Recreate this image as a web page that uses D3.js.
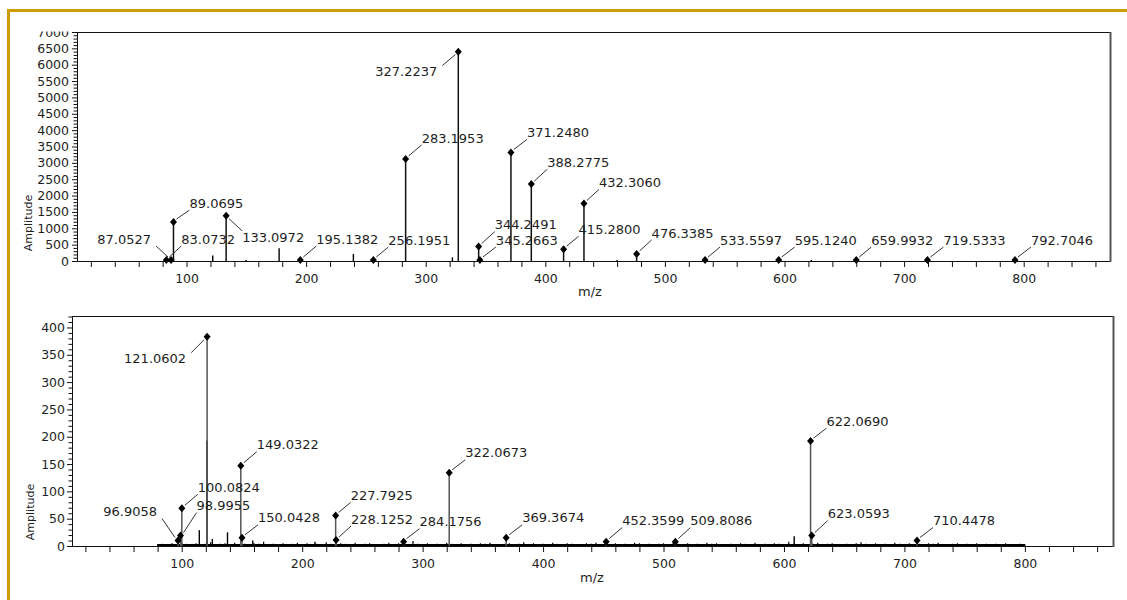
<!DOCTYPE html>
<html>
<head>
<meta charset="utf-8">
<script src="https://cdn.jsdelivr.net/npm/d3@7"></script>
<style>
  body { margin: 0; background: #fff; }
  svg { display: block; }
  text { font-family: "DejaVu Sans", Verdana, sans-serif; fill: #1e1e1e; }
</style>
</head>
<body>
<div id="chart"></div>
<script>
// ---- data ----
// upper spectrum: labelled peaks
var topPeakMz = [83.0732, 87.0527, 89.0695, 133.0972, 195.1382, 256.1951, 283.1953, 327.2237,
  344.2491, 345.2663, 371.2480, 388.2775, 415.2800, 432.3060, 476.3385, 533.5597,
  595.1240, 659.9932, 719.5333, 792.7046];
var topPeakAmp = [30, 30, 1190, 1380, 30, 30, 3120, 6400,
  440, 30, 3320, 2350, 360, 1760, 215, 30,
  30, 30, 30, 30];
// upper spectrum: small unlabelled peaks
var topMinorMz = [121.9, 149.8, 177.4, 239.5, 322.3, 460.0, 622.4];
var topMinorAmp = [170, 30, 390, 215, 110, 30, 30];

// lower spectrum: labelled peaks
var botPeakMz = [96.9058, 98.9955, 100.0824, 121.0602, 149.0322, 150.0428, 227.7925, 228.1252,
  284.1756, 322.0673, 369.3674, 452.3599, 509.8086, 622.0690, 623.0593, 710.4478];
var botPeakAmp = [10, 19, 69, 383, 147, 15, 56, 11,
  8, 134, 15, 8, 8, 192, 19, 10];
// lower spectrum: unlabelled peaks
var botMinorMz = [114.6, 121.0, 125.4, 138.0, 159.0, 210.6, 608.5];
var botMinorAmp = [29, 193, 13, 25, 10, 8, 18];
// lower spectrum: baseline noise, one value every 4 m/z from 80 to 800
var botNoiseStart = 80, botNoiseStep = 4;
var botNoise = [
  3,4,2,5,3,6,4,3,5,2,4,7,3,4,5,3,6,2,4,3,
  5,4,8,3,4,2,5,3,4,6,3,5,2,4,3,7,4,3,5,4,
  2,6,3,4,5,3,2,4,6,3,5,4,3,9,4,3,5,2,4,3,
  6,4,3,5,2,4,3,5,4,6,3,2,4,5,3,4,7,3,5,2,
  4,3,6,4,3,5,4,2,3,5,4,6,3,4,2,5,3,4,3,6,
  5,3,4,2,4,5,3,7,4,3,5,2,4,3,6,4,5,3,2,4,
  3,5,4,3,6,2,4,3,5,4,3,8,4,3,5,2,4,6,3,4,
  5,3,2,4,3,5,7,4,3,5,2,4,3,6,4,3,5,2,4,3,
  5,4,6,3,2,4,5,3,4,3,5,2,4,3,4,3,5,2,3,4,
  3];

// label placement (pixel offsets from each marker) - layout, not data
var topLabelPos = [[15,-21],[-20,-21],[16,-19],[16,21],[16,-21],[15,-20],[16,-21],[-21,20],
  [16,-22],[16,-20],[16,-20],[16,-22],[15,-20],[15,-21],[15,-21],[15,-20],
  [16,-20],[15,-20],[16,-20],[16,-20]];
var botLabelPos = [[-21,-29],[16,-30],[16,-21],[-21,22],[16,-21],[16,-20],[15,-20],[15,-21],
  [16,-20],[16,-20],[16,-20],[16,-21],[15,-21],[16,-20],[16,-22],[16,-20]];

var svgWidth = 1127, svgHeight = 600;

var svg = d3.select("#chart").append("svg")
  .attr("width", svgWidth)
  .attr("height", svgHeight);

// gold slide frame (top and left)
svg.append("rect").attr("x", 7).attr("y", 9).attr("width", svgWidth - 7).attr("height", 3).attr("fill", "#cf9c08");
svg.append("rect").attr("x", 7).attr("y", 9).attr("width", 3).attr("height", svgHeight - 9).attr("fill", "#cf9c08");

// clip for the top y labels (the "7000" is cut off in the original)
svg.append("defs").append("clipPath").attr("id", "topclip")
  .append("rect").attr("x", -100).attr("y", 31.5).attr("width", 200).attr("height", 300);

var diamond = "M0,-4L3.5,0L0,4L-3.5,0Z";

function drawSpectrum(cfg) {
  var x = d3.scaleLinear().domain(cfg.xDomain).range([cfg.left, cfg.right]);
  var y = d3.scaleLinear().domain([0, cfg.yMax]).range([cfg.bottom, cfg.top]);
  var g = svg.append("g");

  // x axis: ticks every 20, labels on hundreds
  var xAxis = d3.axisBottom(x)
    .tickValues(d3.range(20, 861, 20))
    .tickSize(6)
    .tickFormat(function(d) { return (d % 100 === 0 && d >= 100 && d <= 800) ? d : ""; });
  var xg = g.append("g").attr("transform", "translate(0," + cfg.bottom + ")").call(xAxis);
  xg.select(".domain").remove();
  xg.selectAll("line").attr("stroke", "#111");
  xg.selectAll("text").attr("y", 13).style("font-size", "12.5px").style("font-family", null).attr("fill", "#1e1e1e");

  // y axis: minor ticks, labelled majors
  var yAxis = d3.axisLeft(y)
    .tickValues(d3.range(0, cfg.yMax + 0.1, cfg.yMinor).filter(function(v) { return y(v) >= cfg.top - 0.5; }))
    .tickSize(4)
    .tickPadding(cfg.pad)
    .tickFormat(function(d) { return d % cfg.yMajor === 0 ? d : ""; });
  var yg = g.append("g").attr("transform", "translate(" + cfg.left + ",0)").call(yAxis);
  if (cfg.clip) yg.attr("clip-path", "url(#topclip)");
  yg.select(".domain").remove();
  yg.selectAll("line").attr("stroke", "#111")
    .attr("x2", function(d) { return d % cfg.yMajor === 0 ? -5 : -3.5; });
  yg.selectAll("text").style("font-size", "12.5px").style("font-family", null).attr("fill", "#1e1e1e");

  // noise band
  if (cfg.noise) {
    g.append("line")
      .attr("x1", x(cfg.noiseStart)).attr("x2", x(cfg.noiseStart + (cfg.noise.length - 1) * cfg.noiseStep))
      .attr("y1", cfg.bottom - 1).attr("y2", cfg.bottom - 1)
      .attr("stroke", "#000").attr("stroke-width", 2);
    g.selectAll(".noise").data(cfg.noise).enter().append("line")
      .attr("x1", function(d, i) { return x(cfg.noiseStart + i * cfg.noiseStep); })
      .attr("x2", function(d, i) { return x(cfg.noiseStart + i * cfg.noiseStep); })
      .attr("y1", y(0)).attr("y2", function(d) { return y(d); })
      .attr("stroke", "#000").attr("stroke-width", 1.2);
  }

  // unlabelled peaks
  g.selectAll(".minor").data(cfg.minorMz).enter().append("line")
    .attr("x1", function(d) { return x(d); }).attr("x2", function(d) { return x(d); })
    .attr("y1", y(0)).attr("y2", function(d, i) { return y(cfg.minorAmp[i]); })
    .attr("stroke", "#000").attr("stroke-width", 1.4);

  // labelled peaks
  var peaks = cfg.peakMz.map(function(mz, i) {
    return { mz: mz, amp: cfg.peakAmp[i], pos: cfg.labelPos[i] };
  });

  g.selectAll(".stem").data(peaks).enter().append("line")
    .attr("x1", function(d) { return x(d.mz); }).attr("x2", function(d) { return x(d.mz); })
    .attr("y1", y(0)).attr("y2", function(d) { return y(d.amp); })
    .attr("stroke", cfg.stemColor).attr("stroke-width", 1.5);

  g.selectAll(".leader").data(peaks).enter().append("line")
    .attr("x1", function(d) { return x(d.mz) + (d.pos[0] < 0 ? -3 : 3); })
    .attr("y1", function(d) { return y(d.amp) + (d.pos[1] < 0 ? -3 : 3); })
    .attr("x2", function(d) { return x(d.mz) + d.pos[0] + (d.pos[0] < 0 ? 5 : 0); })
    .attr("y2", function(d) { return y(d.amp) + d.pos[1] + (d.pos[1] < 0 ? 7 : -6); })
    .attr("stroke", "#333").attr("stroke-width", 1);

  g.selectAll(".mark").data(peaks).enter().append("path")
    .attr("d", diamond)
    .attr("transform", function(d) { return "translate(" + x(d.mz) + "," + y(d.amp) + ")"; })
    .attr("fill", "#000");

  g.selectAll(".plabel").data(peaks).enter().append("text")
    .attr("x", function(d) { return x(d.mz) + d.pos[0]; })
    .attr("y", function(d) { return y(d.amp) + d.pos[1]; })
    .attr("dy", "0.36em")
    .attr("text-anchor", function(d) { return d.pos[0] < 0 ? "end" : "start"; })
    .style("font-size", "13px")
    .text(function(d) { return d.mz.toFixed(4); });

  // plot frame
  g.append("rect")
    .attr("x", cfg.left + 0.5).attr("y", cfg.top + 0.5)
    .attr("width", cfg.right - cfg.left - 1).attr("height", cfg.bottom - cfg.top)
    .attr("fill", "none").attr("stroke", "#111").attr("stroke-width", 1);
  g.append("line")
    .attr("x1", cfg.right - 0.5).attr("x2", cfg.right - 0.5)
    .attr("y1", cfg.top).attr("y2", cfg.bottom + 1)
    .attr("stroke", "#555").attr("stroke-width", 2);

  // axis titles
  svg.append("text")
    .attr("transform", "translate(" + cfg.ampX + "," + cfg.ampY + ") rotate(-90)")
    .attr("text-anchor", "middle").attr("dy", "0.36em")
    .style("font-size", "11px")
    .text("Amplitude");
  svg.append("text")
    .attr("x", cfg.mzX).attr("y", cfg.mzY)
    .attr("text-anchor", "middle").attr("dy", "0.36em")
    .style("font-size", "13px")
    .text("m/z");
}

drawSpectrum({
  left: 77, right: 1111, top: 32, bottom: 261,
  xDomain: [8.4, 873], yMax: 7000, yMinor: 100, yMajor: 500, pad: 4, clip: true,
  peakMz: topPeakMz, peakAmp: topPeakAmp, labelPos: topLabelPos,
  minorMz: topMinorMz, minorAmp: topMinorAmp,
  stemColor: "#111",
  ampX: 28, ampY: 223, mzX: 590, mzY: 291
});

drawSpectrum({
  left: 72, right: 1114, top: 316, bottom: 546,
  xDomain: [8.9, 874], yMax: 421, yMinor: 10, yMajor: 50, pad: 3, clip: false,
  peakMz: botPeakMz, peakAmp: botPeakAmp, labelPos: botLabelPos,
  minorMz: botMinorMz, minorAmp: botMinorAmp,
  noise: botNoise, noiseStart: botNoiseStart, noiseStep: botNoiseStep,
  stemColor: "#555",
  ampX: 30, ampY: 512, mzX: 592, mzY: 577
});
</script>
</body>
</html>
